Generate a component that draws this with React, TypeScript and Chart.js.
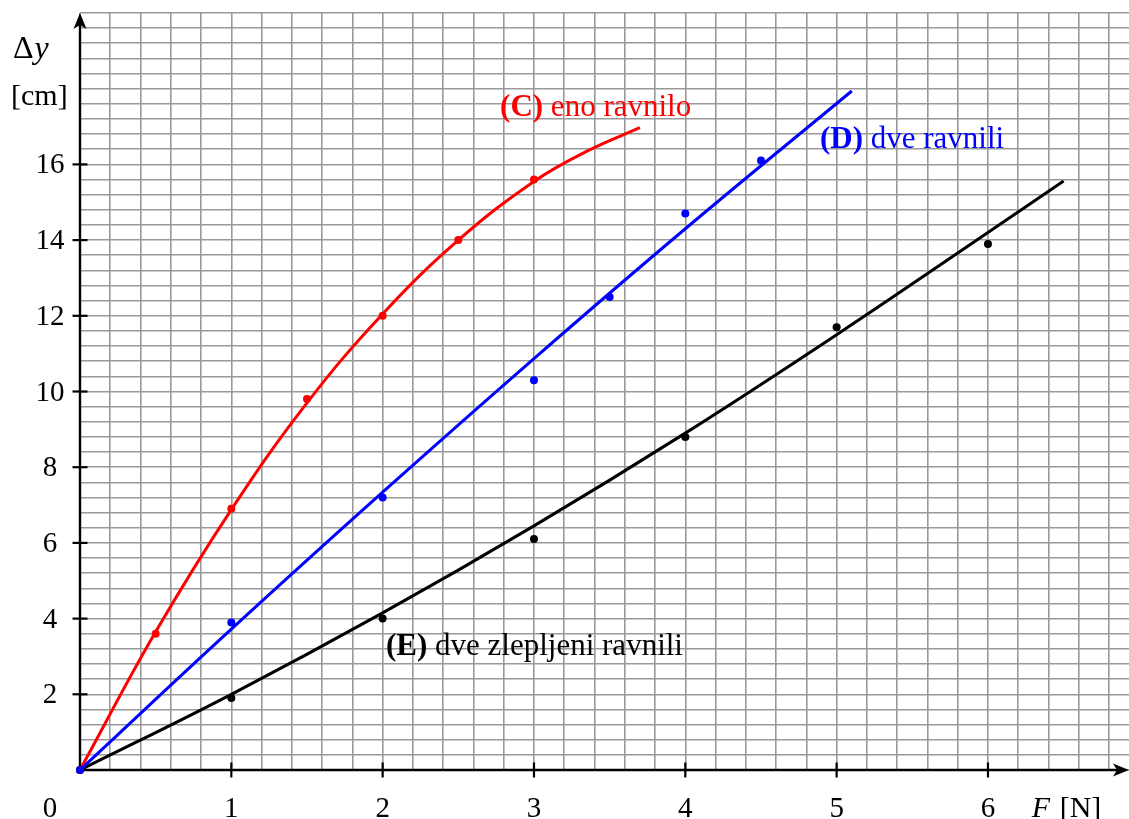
import React, { useEffect, useRef } from "react";
import { Chart, registerables } from "chart.js";

Chart.register(...registerables);

// Measured points (F in N, Δy in cm)
const forceC = [0, 0.5, 1, 1.5, 2, 2.5, 3];
const deltaC = [0, 3.6, 6.9, 9.8, 12.0, 14.0, 15.6];
const forceD = [0, 1, 2, 3, 3.5, 4, 4.5];
const deltaD = [0, 3.9, 7.2, 10.3, 12.5, 14.7, 16.1];
const forceE = [0, 1, 2, 3, 4, 5, 6];
const deltaE = [0, 1.9, 4.0, 6.1, 8.8, 11.7, 13.9];

// Fitted curves
const fitCX = [0, 0.5, 1, 1.5, 2, 2.5, 3, 3.35, 3.7];
const fitCY = [0, 3.65, 6.88, 9.7, 12.05, 14.0, 15.55, 16.35, 16.97];
const fitDX = [0, 1, 2, 3, 4, 5.1];
const fitDY = [0, 3.72, 7.34, 10.87, 14.3, 17.94];
const fitEX = [0, 1, 2, 3, 4, 5, 6, 6.5];
const fitEY = [0, 2.0, 4.15, 6.45, 8.9, 11.5, 14.2, 15.56];

const xTicks = [1, 2, 3, 4, 5, 6];
const yTicks = [2, 4, 6, 8, 10, 12, 14, 16];

const labelC = ["(C)", " eno ravnilo"];
const labelD = ["(D)", " dve ravnili"];
const labelE = ["(E)", " dve zlepljeni ravnili"];

const RED = "#ff0000";
const BLUE = "#0000ff";
const BLACK = "#000000";
const SERIF = '"Liberation Serif", "DejaVu Serif", serif';

const pts = (xs: number[], ys: number[]) => xs.map((v, i) => ({ x: v, y: ys[i] }));

function arrowHead(ctx: CanvasRenderingContext2D, tx: number, ty: number, dx: number, dy: number) {
  const L = 16, W = 6.5, N = 4;
  const px = -dy, py = dx;
  ctx.beginPath();
  ctx.moveTo(tx, ty);
  ctx.lineTo(tx - dx * L + px * W, ty - dy * L + py * W);
  ctx.lineTo(tx - dx * (L - N), ty - dy * (L - N));
  ctx.lineTo(tx - dx * L - px * W, ty - dy * L - py * W);
  ctx.closePath();
  ctx.fill();
}

function drawLabel(ctx: CanvasRenderingContext2D, parts: string[], x: number, y: number, color: string, size: number) {
  ctx.fillStyle = color;
  ctx.textAlign = "left";
  ctx.textBaseline = "alphabetic";
  ctx.font = `bold ${size}px ${SERIF}`;
  ctx.fillText(parts[0], x, y);
  const w = ctx.measureText(parts[0]).width;
  ctx.font = `${size}px ${SERIF}`;
  ctx.fillText(parts[1], x + w, y);
}

const axesPlugin = {
  id: "axesPlugin",
  beforeDatasetsDraw(chart: any) {
    const { ctx, chartArea, scales } = chart;
    const xs = scales.x, ys = scales.y;
    const x0 = xs.getPixelForValue(0);
    const y0 = ys.getPixelForValue(0);
    ctx.save();
    ctx.strokeStyle = BLACK;
    ctx.fillStyle = BLACK;
    ctx.lineWidth = 2.4;
    ctx.beginPath();
    ctx.moveTo(x0, y0);
    ctx.lineTo(chartArea.right - 6, y0);
    ctx.stroke();
    ctx.beginPath();
    ctx.moveTo(x0, y0);
    ctx.lineTo(x0, chartArea.top + 6);
    ctx.stroke();
    arrowHead(ctx, chartArea.right, y0, 1, 0);
    arrowHead(ctx, x0, chartArea.top, 0, -1);
    ctx.lineWidth = 2.2;
    xTicks.forEach((v) => {
      const px = xs.getPixelForValue(v);
      ctx.beginPath();
      ctx.moveTo(px, y0 - 7.5);
      ctx.lineTo(px, y0 + 7.5);
      ctx.stroke();
    });
    yTicks.forEach((v) => {
      const py = ys.getPixelForValue(v);
      ctx.beginPath();
      ctx.moveTo(x0 - 7.5, py);
      ctx.lineTo(x0 + 7.5, py);
      ctx.stroke();
    });
    ctx.restore();
  },
  afterDraw(chart: any) {
    const { ctx, scales } = chart;
    const xs = scales.x, ys = scales.y;
    const x0 = xs.getPixelForValue(0);
    const y0 = ys.getPixelForValue(0);
    ctx.save();
    ctx.fillStyle = BLACK;
    ctx.font = `29px ${SERIF}`;
    ctx.textAlign = "center";
    ctx.textBaseline = "alphabetic";
    xTicks.forEach((v) => {
      ctx.fillText(String(v), xs.getPixelForValue(v), y0 + 47);
    });
    yTicks.forEach((v) => {
      ctx.fillText(String(v), x0 - 30, ys.getPixelForValue(v) + 9);
    });
    ctx.fillText("0", x0 - 30, y0 + 47);
    // x-axis title
    ctx.textAlign = "left";
    ctx.font = `italic 30px ${SERIF}`;
    const fx = xs.getPixelForValue(6.29);
    ctx.fillText("F", fx, y0 + 47);
    const fw = ctx.measureText("F").width;
    ctx.font = `30px ${SERIF}`;
    ctx.fillText(" [N]", fx + fw + 2, y0 + 47);
    // y-axis title
    const ax = x0 - 67;
    ctx.font = `32px ${SERIF}`;
    ctx.fillText("Δ", ax, ys.getPixelForValue(18.8));
    const dw = ctx.measureText("Δ").width;
    ctx.font = `italic 32px ${SERIF}`;
    ctx.fillText("y", ax + dw + 1, ys.getPixelForValue(18.8));
    ctx.font = `30px ${SERIF}`;
    ctx.fillText("[cm]", x0 - 69, ys.getPixelForValue(17.57));
    // series labels
    drawLabel(ctx, labelC, xs.getPixelForValue(2.776), ys.getPixelForValue(17.28), RED, 31);
    drawLabel(ctx, labelD, xs.getPixelForValue(4.89), ys.getPixelForValue(16.44), BLUE, 31);
    drawLabel(ctx, labelE, xs.getPixelForValue(2.022), ys.getPixelForValue(3.04), BLACK, 31);
    ctx.restore();
  },
};

export default function App() {
  const ref = useRef<HTMLCanvasElement | null>(null);
  useEffect(() => {
    if (!ref.current) return;
    const pointDs = (label: string, xs: number[], ys: number[], color: string) => ({
      type: "scatter" as const,
      label,
      data: pts(xs, ys),
      showLine: false,
      pointRadius: 4,
      pointHoverRadius: 4,
      pointBackgroundColor: color,
      pointBorderColor: color,
      pointBorderWidth: 0,
      clip: false as any,
    });
    const lineDs = (label: string, xs: number[], ys: number[], color: string) => ({
      type: "line" as const,
      label,
      data: pts(xs, ys),
      borderColor: color,
      borderWidth: 3,
      pointRadius: 0,
      fill: false,
      tension: 0.4,
      cubicInterpolationMode: "default" as const,
      clip: false as any,
    });
    const chart = new Chart(ref.current, {
      type: "scatter",
      data: {
        datasets: [
          pointDs("D points", forceD, deltaD, BLUE),
          pointDs("C points", forceC, deltaC, RED),
          pointDs("E points", forceE, deltaE, BLACK),
          lineDs("D fit", fitDX, fitDY, BLUE),
          lineDs("C fit", fitCX, fitCY, RED),
          lineDs("E fit", fitEX, fitEY, BLACK),
        ] as any,
      },
      options: {
        animation: false,
        responsive: false,
        devicePixelRatio: 1,
        layout: { padding: { left: 80, top: 13, right: 0, bottom: 49 }, autoPadding: false } as any,
        plugins: { legend: { display: false }, tooltip: { enabled: false } },
        events: [],
        scales: {
          x: {
            type: "linear",
            min: 0,
            max: 6.932,
            ticks: { display: false, stepSize: 0.2, includeBounds: false } as any,
            grid: { color: "#999999", lineWidth: 1.6, drawTicks: false },
            border: { display: false },
          },
          y: {
            type: "linear",
            min: 0,
            max: 20,
            ticks: { display: false, stepSize: 0.4 },
            grid: { color: "#999999", lineWidth: 1.6, drawTicks: false },
            border: { display: false },
          },
        },
      },
      plugins: [axesPlugin],
    });
    return () => chart.destroy();
  }, []);
  return (
    <canvas
      ref={ref}
      width={1129}
      height={819}
      style={{ position: "fixed", left: 0, top: 0, width: 1129, height: 819 }}
    />
  );
}
